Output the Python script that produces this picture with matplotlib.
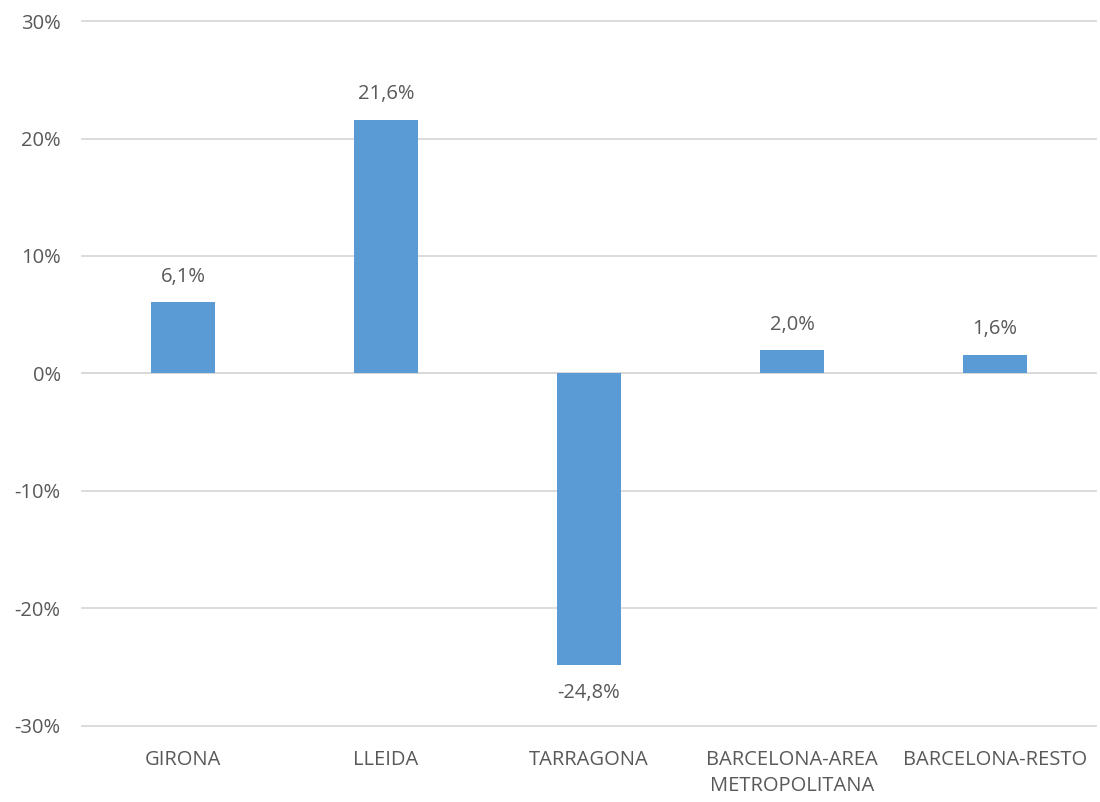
import matplotlib
matplotlib.use("Agg")
import matplotlib.pyplot as plt
from matplotlib.ticker import FuncFormatter

plt.rcParams['font.family'] = ['Open Sans', 'DejaVu Sans']

# datos
provincias = ['GIRONA', 'LLEIDA', 'TARRAGONA', 'BARCELONA-AREA\nMETROPOLITANA', 'BARCELONA-RESTO']
variacion = [6.1, 21.6, -24.8, 2.0, 1.6]
etiquetas = ['6,1%', '21,6%', '-24,8%', '2,0%', '1,6%']

gris = '#595959'
azul = '#5B9BD5'
fs = 14.5

fig = plt.figure(figsize=(11, 8.02), dpi=100)
ax = fig.add_axes([0.0741, 0.0948, 0.9227, 0.879])

x = range(len(provincias))
bars = ax.bar(x, variacion, width=0.315, color=azul, zorder=3)

for b, v, t in zip(bars, variacion, etiquetas):
    if v >= 0:
        ax.annotate(t, (b.get_x() + b.get_width() / 2, v), xytext=(0, 11),
                    textcoords='offset points', ha='center', va='bottom',
                    fontsize=fs, color=gris)
    else:
        ax.annotate(t, (b.get_x() + b.get_width() / 2, v), xytext=(0, -13),
                    textcoords='offset points', ha='center', va='top',
                    fontsize=fs, color=gris)

ax.set_xlim(-0.5, len(provincias) - 0.5)
ax.set_ylim(-30, 30)
ax.set_yticks(range(-30, 31, 10))
ax.yaxis.set_major_formatter(FuncFormatter(lambda v, p: '%d%%' % v))
ax.set_xticks(list(x))
ax.set_xticklabels(provincias, linespacing=1.45)

ax.grid(axis='y', color='#D9D9D9', linewidth=1.3, zorder=0)
for gl in ax.get_ygridlines():
    gl.set_clip_on(False)
ax.axhline(0, color='#D9D9D9', linewidth=1.3, zorder=1)
for s in ax.spines.values():
    s.set_visible(False)
ax.tick_params(axis='both', length=0, labelsize=fs, colors=gris)
ax.tick_params(axis='y', pad=15)
ax.tick_params(axis='x', pad=17)

fig.savefig('out.png', dpi=100)
